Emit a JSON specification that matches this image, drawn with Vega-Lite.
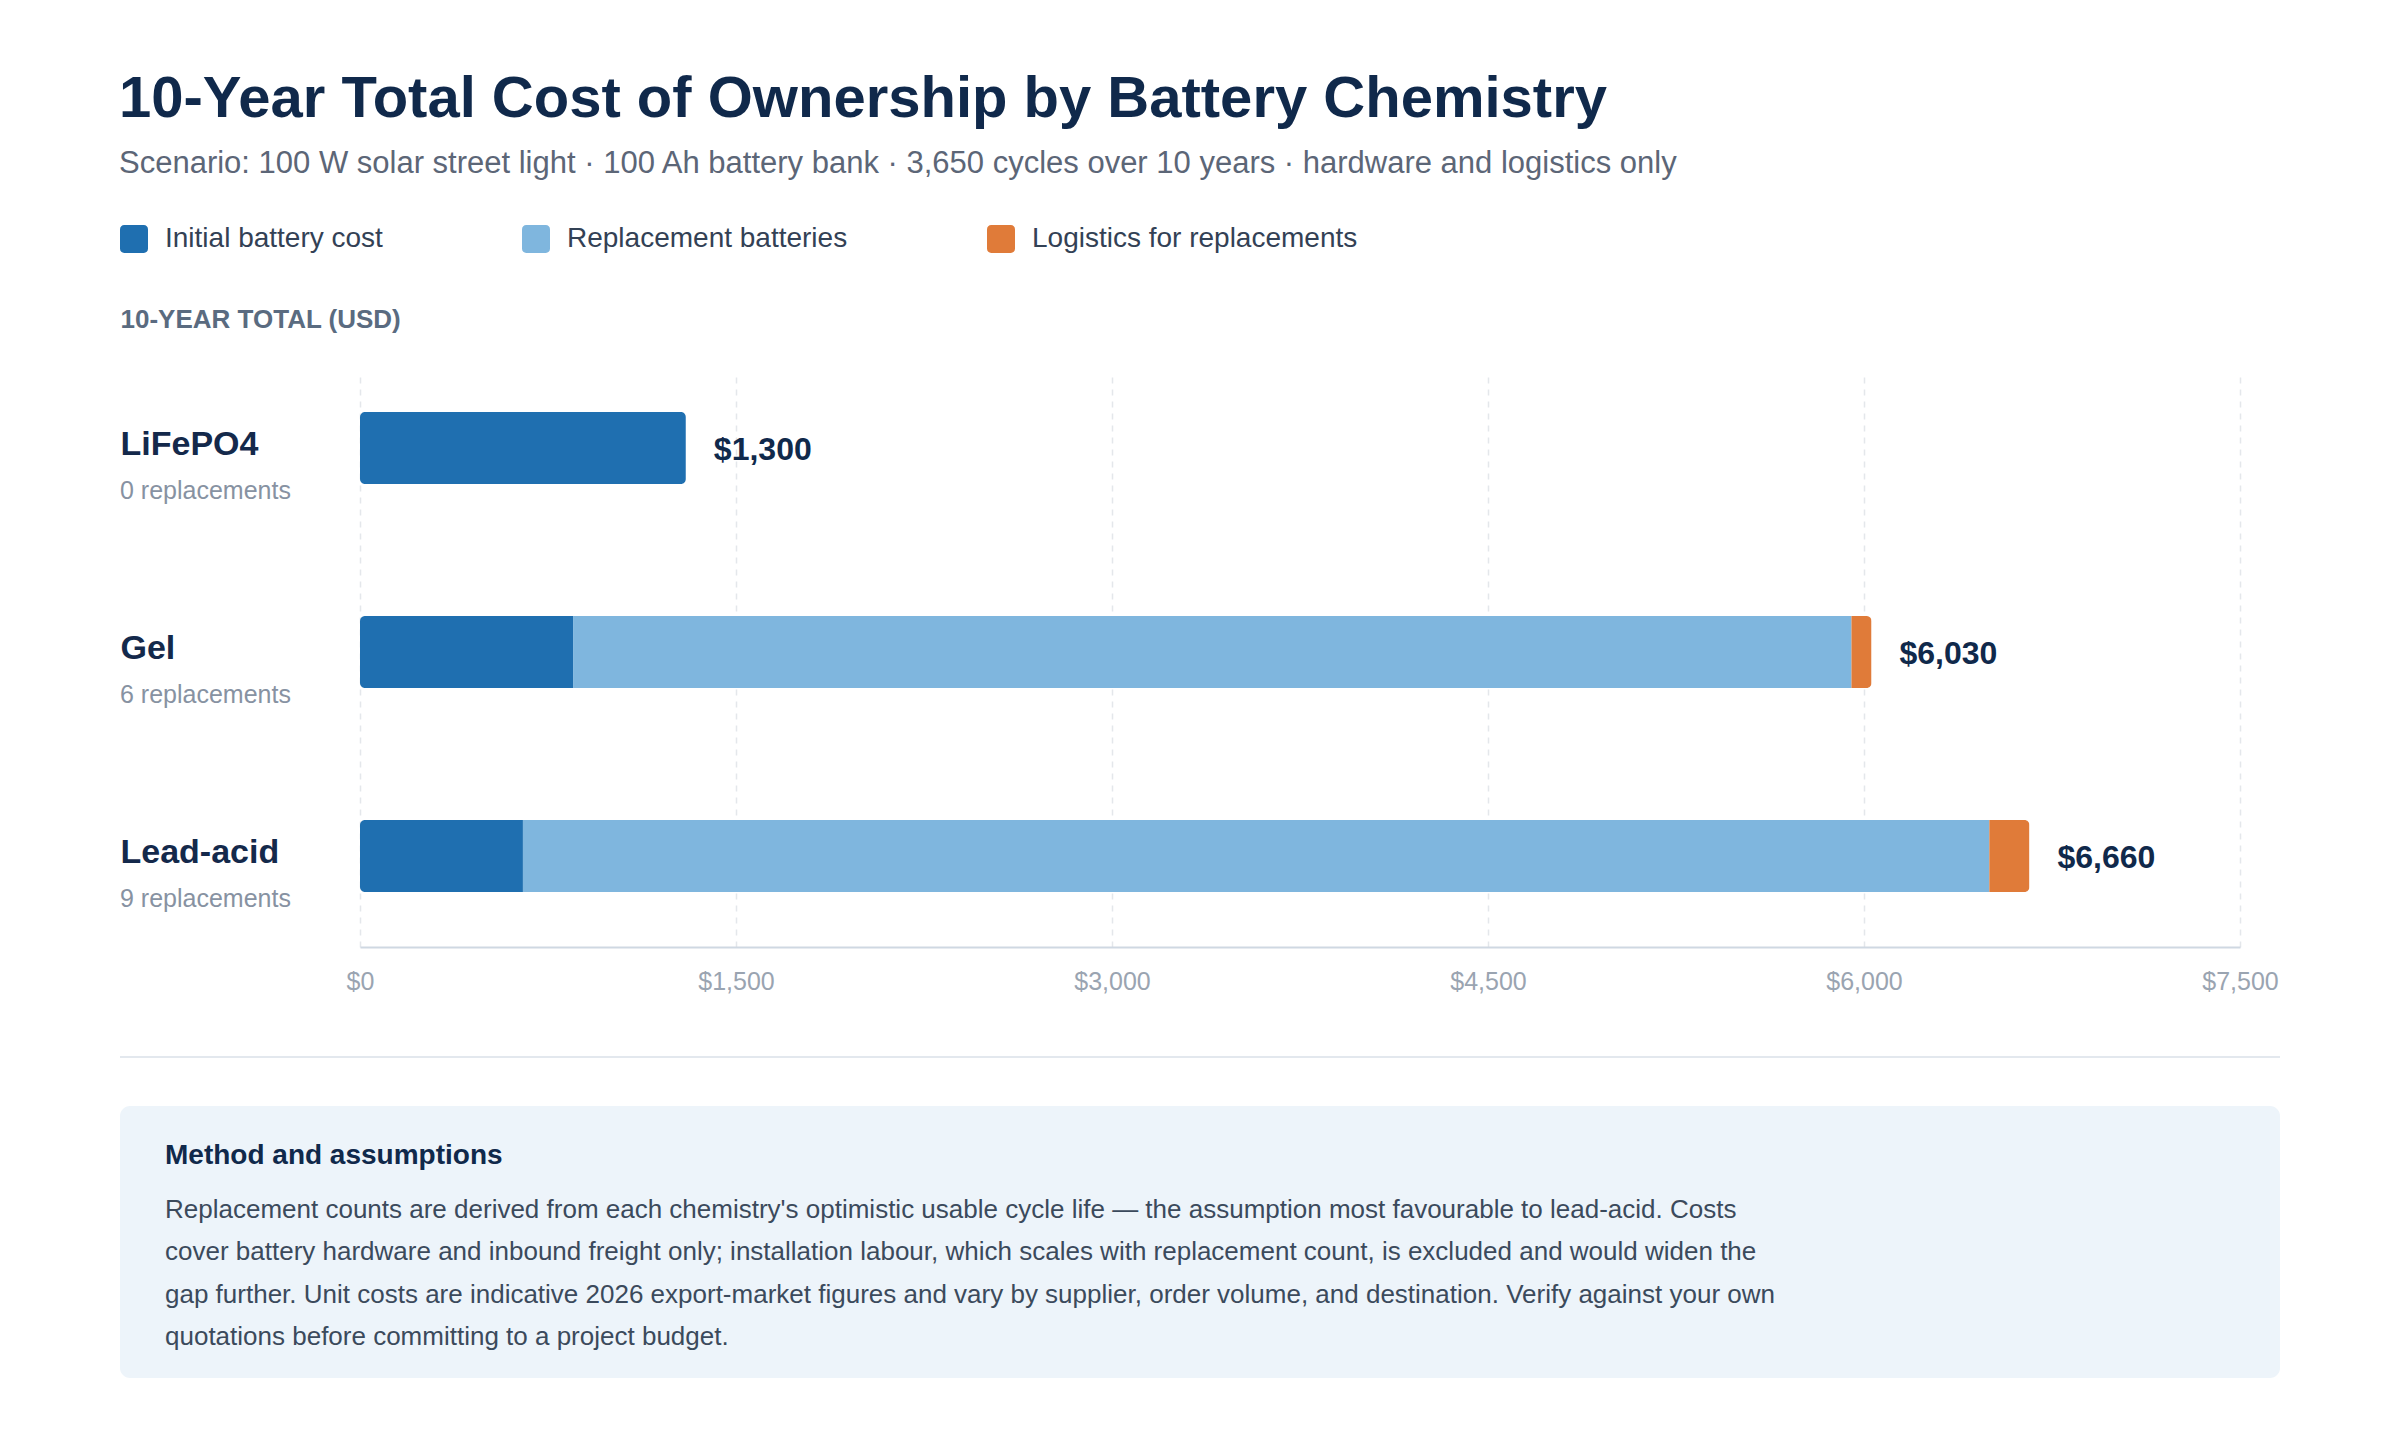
{
  "$schema": "https://vega.github.io/schema/vega-lite/v6.json",
  "background": "white",
  "padding": {"left": 119, "top": 71, "right": 0, "bottom": 0},
  "datasets": {
    "segments": [
      {"chemistry": "LiFePO4", "component": "Initial battery cost", "seq": 1, "cost": 1300},
      {"chemistry": "Gel", "component": "Initial battery cost", "seq": 1, "cost": 850},
      {"chemistry": "Gel", "component": "Replacement batteries", "seq": 2, "cost": 5100},
      {"chemistry": "Gel", "component": "Logistics for replacements", "seq": 3, "cost": 80},
      {"chemistry": "Lead-acid", "component": "Initial battery cost", "seq": 1, "cost": 650},
      {"chemistry": "Lead-acid", "component": "Replacement batteries", "seq": 2, "cost": 5850},
      {"chemistry": "Lead-acid", "component": "Logistics for replacements", "seq": 3, "cost": 160}
    ],
    "chemistries": [
      {"chemistry": "LiFePO4", "replacements": 0},
      {"chemistry": "Gel", "replacements": 6},
      {"chemistry": "Lead-acid", "replacements": 9}
    ],
    "divider": [
      {"position": 0}
    ],
    "notes": [
      {"line": 0, "kind": "heading", "text": "Method and assumptions"},
      {"line": 1, "kind": "body", "text": "Replacement counts are derived from each chemistry's optimistic usable cycle life — the assumption most favourable to lead-acid. Costs"},
      {"line": 2, "kind": "body", "text": "cover battery hardware and inbound freight only; installation labour, which scales with replacement count, is excluded and would widen the"},
      {"line": 3, "kind": "body", "text": "gap further. Unit costs are indicative 2026 export-market figures and vary by supplier, order volume, and destination. Verify against your own"},
      {"line": 4, "kind": "body", "text": "quotations before committing to a project budget."}
    ]
  },
  "title": {
    "text": "10-Year Total Cost of Ownership by Battery Chemistry",
    "subtitle": "Scenario: 100 W solar street light · 100 Ah battery bank · 3,650 cycles over 10 years · hardware and logistics only",
    "anchor": "start",
    "fontSize": 58,
    "fontWeight": "bold",
    "color": "#10294b",
    "subtitleFontSize": 31,
    "subtitleColor": "#5c6677",
    "subtitlePadding": 20,
    "offset": 46
  },
  "spacing": 48,
  "vconcat": [
    {
      "width": 2160,
      "height": 576,
      "encoding": {
        "y": {
          "field": "chemistry",
          "type": "nominal",
          "sort": ["LiFePO4", "Gel", "Lead-acid"],
          "scale": {"paddingInner": 0.647, "paddingOuter": 0.235, "align": 0.427},
          "axis": {
            "title": "10-YEAR TOTAL (USD)",
            "titleAngle": 0,
            "titleAlign": "left",
            "titleBaseline": "middle",
            "titleX": 0,
            "titleY": -52,
            "titleFontSize": 26,
            "titleFontWeight": "bold",
            "titleColor": "#5a6b80",
            "labelAlign": "left",
            "labelBaseline": "middle",
            "labelPadding": 0,
            "labelOffset": -3,
            "labelFontSize": 34,
            "labelFontWeight": "bold",
            "labelColor": "#14294b",
            "labelLimit": 400,
            "ticks": false,
            "tickSize": 0,
            "domain": false,
            "grid": false
          }
        }
      },
      "layer": [
        {
          "data": {"name": "segments"},
          "mark": {"type": "bar", "cornerRadius": 5},
          "encoding": {
            "x": {
              "field": "cost",
              "type": "quantitative",
              "stack": "zero",
              "scale": {"domain": [0, 7500], "nice": false, "range": [240, 2120]},
              "axis": {
                "title": null,
                "values": [0, 1500, 3000, 4500, 6000, 7500],
                "format": "$,d",
                "labelFontSize": 25,
                "labelColor": "#9aa4b1",
                "labelBaseline": "middle",
                "labelPadding": 34,
                "labelFlush": false,
                "ticks": false,
                "tickSize": 0,
                "domainColor": "#cfd8e2",
                "domainWidth": 2,
                "grid": true,
                "gridColor": "#e4e7eb",
                "gridWidth": 1.5,
                "gridDash": [6, 6]
              }
            },
            "order": {"field": "seq", "type": "quantitative"},
            "color": {
              "field": "component",
              "type": "nominal",
              "scale": {
                "domain": ["Initial battery cost", "Replacement batteries", "Logistics for replacements"],
                "range": ["#1f6fb0", "#7fb6de", "#e07b39"]
              },
              "legend": {
                "title": null,
                "orient": "top",
                "direction": "horizontal",
                "columns": 3,
                "gridAlign": "each",
                "columnPadding": 139,
                "offset": 53,
                "symbolType": "M-1,-0.7A0.3,0.3,0,0,1,-0.7,-1L0.7,-1A0.3,0.3,0,0,1,1,-0.7L1,0.7A0.3,0.3,0,0,1,0.7,1L-0.7,1A0.3,0.3,0,0,1,-1,0.7Z",
                "symbolSize": 784,
                "symbolStrokeWidth": 0,
                "labelFontSize": 28,
                "labelColor": "#334155",
                "labelOffset": 17,
                "labelLimit": 600
              }
            }
          }
        },
        {
          "data": {"name": "segments"},
          "transform": [
            {"aggregate": [{"op": "sum", "field": "cost", "as": "total"}], "groupby": ["chemistry"]}
          ],
          "mark": {"type": "text", "align": "left", "baseline": "middle", "dx": 28, "dy": 2, "fontSize": 32, "fontWeight": "bold", "color": "#10294b"},
          "encoding": {
            "x": {"field": "total", "type": "quantitative"},
            "text": {"field": "total", "type": "quantitative", "format": "$,d"}
          }
        },
        {
          "data": {"name": "chemistries"},
          "transform": [
            {"calculate": "datum.replacements + ' replacements'", "as": "note"}
          ],
          "mark": {"type": "text", "align": "left", "baseline": "alphabetic", "dx": -240, "dy": 51, "fontSize": 25, "color": "#8792a2"},
          "encoding": {
            "x": {"datum": 0, "type": "quantitative"},
            "text": {"field": "note"}
          }
        }
      ]
    },
    {
      "width": 2160,
      "height": 15,
      "view": {"stroke": null},
      "data": {"name": "divider"},
      "mark": {"type": "rule", "color": "#e3e8ee", "strokeWidth": 2},
      "encoding": {
        "y": {"field": "position", "type": "quantitative", "scale": {"domain": [0, 1]}, "axis": null}
      }
    },
    {
      "width": 2160,
      "height": 272,
      "view": {"fill": "#edf4fa", "stroke": null, "cornerRadius": 10},
      "data": {"name": "notes"},
      "encoding": {
        "x": {"datum": 0, "type": "quantitative", "scale": {"domain": [0, 1]}, "axis": null},
        "y": {
          "field": "line",
          "type": "quantitative",
          "scale": {"domain": [-1.648, 4.782], "reverse": true, "nice": false, "zero": false},
          "axis": null
        },
        "text": {"field": "text"}
      },
      "layer": [
        {
          "transform": [{"filter": "datum.kind == 'heading'"}],
          "mark": {"type": "text", "align": "left", "baseline": "alphabetic", "dx": 45, "dy": -12, "fontSize": 28, "fontWeight": "bold", "color": "#10294b"}
        },
        {
          "transform": [{"filter": "datum.kind == 'body'"}],
          "mark": {"type": "text", "align": "left", "baseline": "alphabetic", "dx": 45, "fontSize": 26, "color": "#3b4a5c"}
        }
      ]
    }
  ],
  "config": {
    "font": "Liberation Sans",
    "view": {"stroke": null}
  }
}
